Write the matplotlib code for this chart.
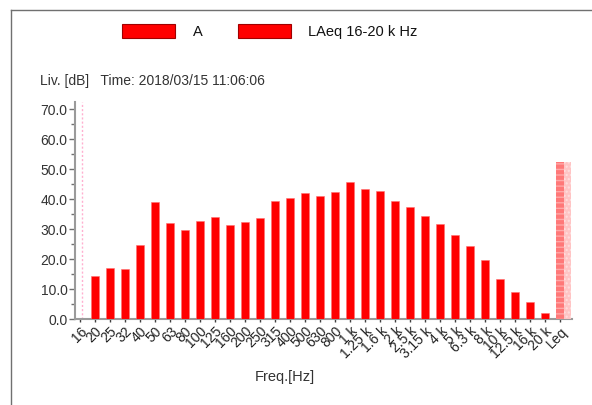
import matplotlib
matplotlib.use("Agg")
import matplotlib.pyplot as plt
from matplotlib.patches import Rectangle
from matplotlib.lines import Line2D
import numpy as np

plt.rcParams['font.family'] = ['Liberation Sans', 'DejaVu Sans']

categories = ["16", "20", "25", "32", "40", "50", "63", "80", "100", "125", "160",
              "200", "250", "315", "400", "500", "630", "800", "1 k", "1.25 k",
              "1.6 k", "2 k", "2.5 k", "3.15 k", "4 k", "5 k", "6.3 k", "8 k",
              "10 k", "12.5 k", "16 k", "20 k"]
band_values = [0.0, 14.4, 17.1, 16.6, 24.8, 38.9, 32.0, 29.8, 32.8, 34.0, 31.2,
               32.2, 33.7, 39.4, 40.4, 42.1, 41.1, 42.2, 45.6, 43.2,
               42.6, 39.2, 37.2, 34.2, 31.8, 28.1, 24.3, 19.6,
               13.4, 8.9, 5.6, 2.1]
leq_label = "Leq"
leq_value = 52.4
yticks = [0, 10, 20, 30, 40, 50, 60, 70]
legend_labels = ["A", "LAeq 16-20 k Hz"]
title_text = "Liv. [dB]   Time: 2018/03/15 11:06:06"
xlabel_text = "Freq.[Hz]"

W, H = 592, 406
fig = plt.figure(figsize=(W / 100, H / 100), dpi=100)
fig.patch.set_facecolor('white')

# outer frame
fig.add_artist(Line2D([11 / W, 11 / W], [0, 1 - 11 / H], color='#707070', lw=1.0))
fig.add_artist(Line2D([11 / W, 1], [1 - 11 / H, 1 - 11 / H], color='#707070', lw=1.0))

ax = fig.add_axes([74.5 / W, (H - 320) / H, (572 - 74.5) / W, (320 - 103) / H])

x = np.arange(len(categories))
bw = 0.47
ax.bar(x[1:], band_values[1:], width=bw, color='#ff0000', edgecolor='#ff7070', linewidth=0.4, zorder=3)
# cursor at first band
ax.axvline(x[0] + 0.13, color='#ffb0d0', lw=1.0, ls=(0, (1.5, 1.5)), zorder=2)

xl = len(categories)
ax.bar([xl], [leq_value], width=bw, color='#ff7878', edgecolor='#ffa8a8', hatch='---', linewidth=0, zorder=3)
ax.bar([xl + bw], [leq_value], width=bw, color='#ffc4c4', edgecolor='#ffdede', hatch='....', linewidth=0, zorder=3)

ax.set_xlim(-0.367, 32.8)
ax.set_ylim(0, 72.3)
ax.set_yticks(yticks)
ax.set_yticklabels([f"{v:.1f}" for v in yticks])
ax.set_yticks(np.arange(5, 71, 10), minor=True)
ax.set_xticks(list(x) + [xl])
ax.set_xticklabels(categories + [leq_label], rotation=45, ha='right', va='top',
                   rotation_mode='anchor')

for s in ['top', 'right']:
    ax.spines[s].set_visible(False)
for s in ['left', 'bottom']:
    ax.spines[s].set_color('#9a9a9a')
    ax.spines[s].set_linewidth(1.5)

ax.tick_params(axis='y', which='major', length=4, width=1, color='#707070',
               labelsize=10, labelcolor='#333333', pad=1)
ax.tick_params(axis='y', which='minor', length=3, width=1, color='#707070')
ax.tick_params(axis='x', which='major', length=2, width=1, color='#404040',
               labelsize=10, labelcolor='#222222', pad=1)

# legend
for (rx, tx, lab) in [(122, 193, legend_labels[0]), (238, 308, legend_labels[1])]:
    fig.add_artist(Rectangle((rx / W, 1 - 38.5 / H), 53 / W, 14 / H,
                             facecolor='#ff0000', edgecolor='#a00000', lw=0.8))
    fig.text(tx / W, 1 - 32 / H, lab, fontsize=10.5, color='#111111', va='center', ha='left')

fig.text(40 / W, 1 - 81 / H, title_text, fontsize=10, color='#333333', va='center', ha='left')
fig.text(285 / W, 1 - 377 / H, xlabel_text, fontsize=10.5, color='#333333', va='center', ha='center')

fig.savefig('out.png', dpi=100, facecolor='white')
